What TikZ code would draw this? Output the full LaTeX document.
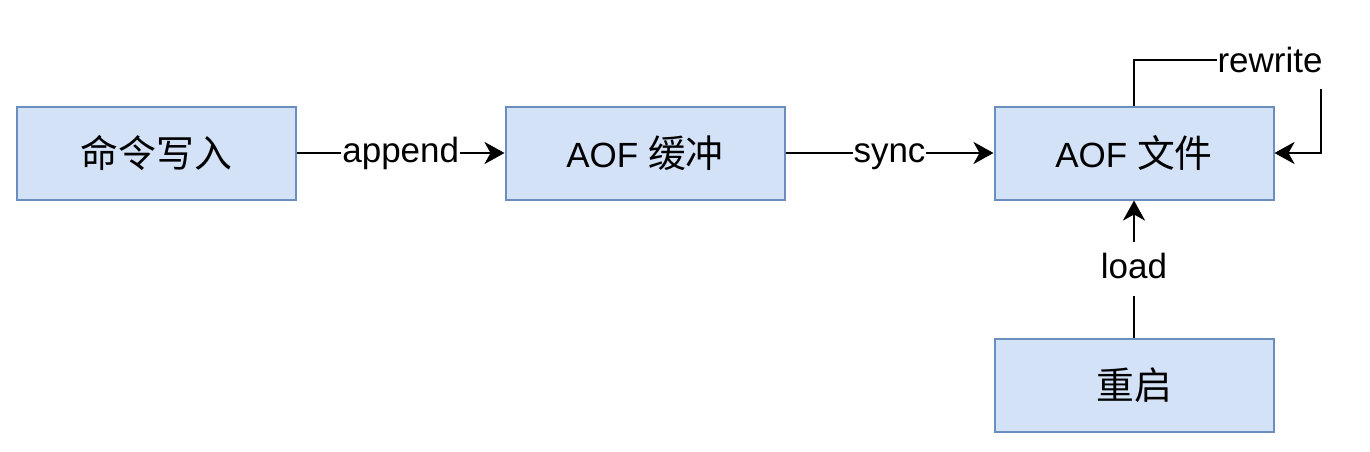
\documentclass[tikz,border=0pt]{standalone}
\usepackage{fontspec}
\setmainfont{Liberation Sans}
\newfontfamily\cjk[Scale=1.08]{Noto Sans CJK SC}
\usetikzlibrary{arrows.meta}
\definecolor{boxfill}{HTML}{D4E2F8}
\definecolor{boxdraw}{HTML}{6C8EBF}
\tikzset{
  box/.style={draw=boxdraw, fill=boxfill, line width=2pt, minimum width=279pt, minimum height=93pt, inner sep=0pt, font=\fontsize{35}{40}\selectfont},
  conn/.style={line width=2.8pt, draw=black, -{Stealth[length=20pt,width=22pt,inset=6pt]}},
  lbl/.style={fill=white, inner xsep=1pt, inner ysep=10pt, text height=26pt, text depth=8pt, font=\fontsize{35}{40}\selectfont}
}
\begin{document}
\begin{tikzpicture}[x=1pt,y=-1pt]
\useasboundingbox (0,0) rectangle (1370,452);
\node[box] (cmd) at (156.5,153) {{\cjk 命令写入}};
\node[box] (buf) at (645,153) {AOF {\cjk 缓冲}};
\node[box] (file) at (1134,153) {AOF {\cjk 文件}};
\node[box] (boot) at (1134,385.5) {{\cjk 重启}};
\coordinate (rwc) at (1321,60);
\draw[conn] (cmd) -- node[lbl] (la) {append} (buf);
\draw[conn] (buf) -- node[lbl] (ls) {sync} (file);
\draw[conn] (boot) -- node[lbl] (ll) {load} (file);
\draw[conn] (file.north) |- (rwc) |- (file.east);
\node[lbl, inner ysep=2pt, minimum height=50pt] (lr) at (1270,64) {rewrite};
\end{tikzpicture}
\end{document}
